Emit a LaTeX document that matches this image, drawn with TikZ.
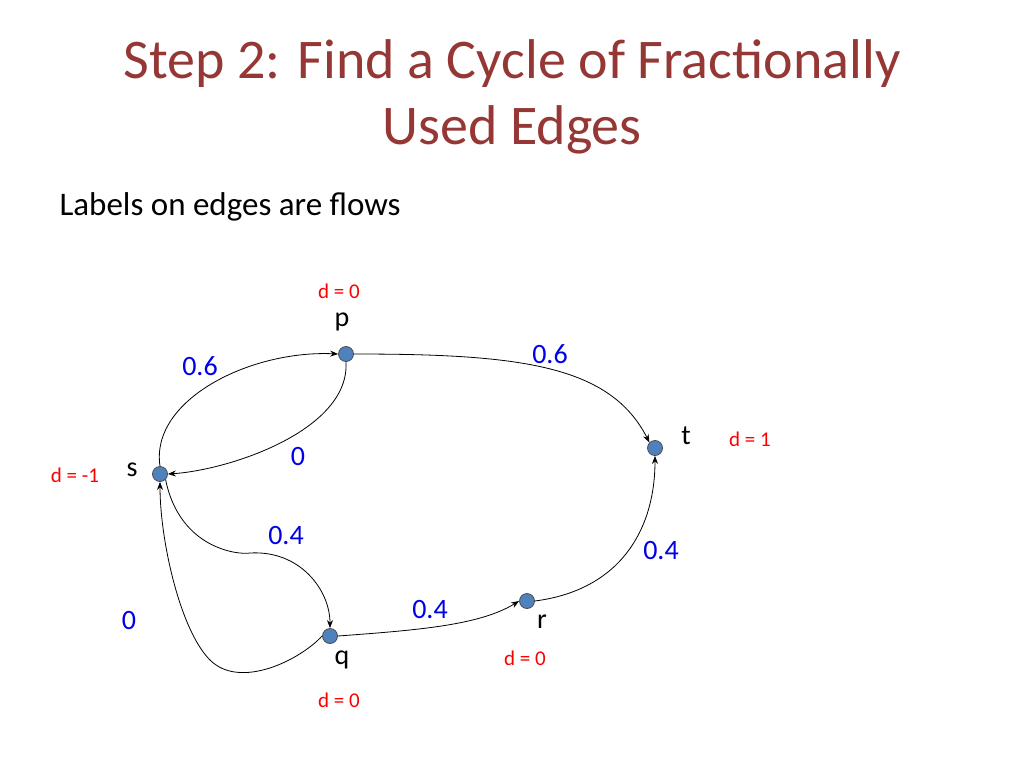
\documentclass[tikz,border=0pt]{standalone}
\usepackage{fontspec}
\setmainfont{Carlito}
\usetikzlibrary{arrows.meta}
\definecolor{ttl}{RGB}{149,55,53}
\definecolor{nd}{RGB}{79,129,189}
\definecolor{fl}{RGB}{0,0,230}
\begin{document}
\begin{tikzpicture}[x=1pt,y=-1pt,
 vtx/.style={circle,fill=nd,draw=black!70,line width=0.8pt,minimum size=15pt,inner sep=0pt},
 flow/.style={text=fl,font=\fontsize{28}{32}\selectfont},
 dem/.style={text=red,font=\fontsize{21}{25}\selectfont},
 lab/.style={font=\fontsize{28}{32}\selectfont},
 edge/.style={draw=black,line width=0.8pt,-{Stealth[length=8pt,width=6pt]}}]
\useasboundingbox (0,0) rectangle (1024,768);
\node[text=ttl,font=\fontsize{56}{66}\selectfont,align=center] (title) at (512,97) {Step 2: Find a Cycle of Fractionally\\Used Edges};
\node[anchor=west,font=\fontsize{33}{38}\selectfont] (sub) at (56,207) {Labels on edges are flows};
\node[vtx] (p) at (346,354) {};
\node[vtx] (t) at (655,448) {};
\node[vtx] (s) at (160,474) {};
\node[vtx] (q) at (330,636) {};
\node[vtx] (r) at (527,601) {};
\node[lab] (lp) at (342,322) {p};
\node[lab] (lt) at (686,436) {t};
\node[lab] (ls) at (132,470) {s};
\node[lab] (lq) at (342,660) {q};
\node[lab] (lr) at (542,622) {r};
\node[dem] (dp) at (339,291) {d = 0};
\node[dem] (dt) at (750,439) {d = 1};
\node[dem] (ds) at (75,475) {d = -1};
\node[dem] (dq) at (339,700) {d = 0};
\node[dem] (dr) at (525,658) {d = 0};
\node[flow] (f1) at (200,366) {0.6};
\node[flow] (f2) at (550,354) {0.6};
\node[flow] (f3) at (298,457) {0};
\node[flow] (f4) at (286,536) {0.4};
\node[flow] (f5) at (661,551) {0.4};
\node[flow] (f6) at (430,610) {0.4};
\node[flow] (f7) at (129,621) {0};
\draw[edge] (s.north) .. controls (150,400) and (250,350) .. (p.west);
\draw[edge] (p.south) .. controls (350,430) and (230,470) .. (s.east);
\draw[edge] (p.east) .. controls (520,354) and (610,365) .. (t.north west);
\draw[edge] (s.south east) .. controls (180,550) and (240,555) .. (250,553) .. controls (300,550) and (330,590) .. (q.north);
\draw[edge] (q.west) .. controls (300,660) and (240,690) .. (210,660) .. controls (180,630) and (160,540) .. (s.south);
\draw[edge] (q.east) .. controls (420,630) and (480,625) .. (r.west);
\draw[edge] (r.east) .. controls (620,590) and (655,530) .. (t.south);
\end{tikzpicture}
\end{document}
